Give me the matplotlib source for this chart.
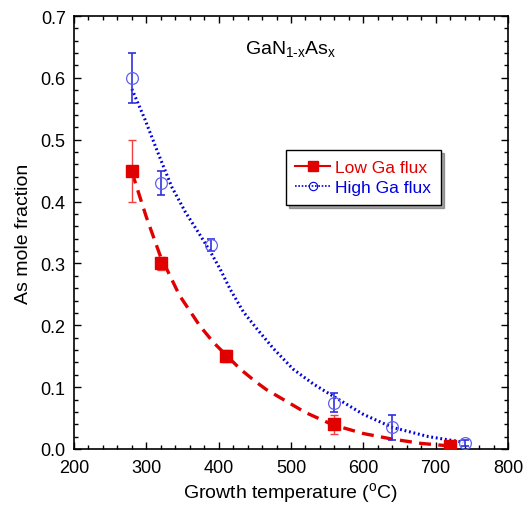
import matplotlib
matplotlib.use("Agg")
import matplotlib.pyplot as plt
from matplotlib.ticker import MultipleLocator, FormatStrFormatter

plt.rcParams['font.family'] = ['Liberation Sans', 'DejaVu Sans']
plt.rcParams['mathtext.fontset'] = 'custom'
plt.rcParams['mathtext.rm'] = 'Liberation Sans'

# Data points
low_T = [280, 320, 410, 560, 720]
low_x = [0.45, 0.30, 0.15, 0.04, 0.005]
low_err = [0.05, 0.01, 0.01, 0.015, 0.003]

high_T = [280, 320, 390, 560, 640, 740]
high_x = [0.60, 0.43, 0.33, 0.075, 0.035, 0.010]
high_err = [0.04, 0.02, 0.01, 0.015, 0.02, 0.005]

# Fit curves
low_fit_T = [280, 300, 319, 346, 374, 393, 411, 430, 452, 466, 485, 520, 558, 600, 639, 680, 715, 722]
low_fit_x = [0.448, 0.375, 0.313, 0.248, 0.199, 0.172, 0.151, 0.129, 0.108, 0.096, 0.083, 0.059, 0.039, 0.025, 0.0162, 0.009, 0.0054, 0.005]

high_fit_T = [280, 298, 317, 335, 354, 372, 388, 402, 416, 434, 453, 476, 503, 531, 556, 600, 640, 690, 738]
high_fit_x = [0.582, 0.533, 0.476, 0.424, 0.383, 0.350, 0.320, 0.291, 0.258, 0.222, 0.194, 0.162, 0.129, 0.105, 0.087, 0.056, 0.035, 0.020, 0.011]

fig = plt.figure(figsize=(5.23, 5.06), dpi=100)
ax = fig.add_axes([0.1415, 0.1107, 0.8298, 0.8557])

red = '#e00000'
blue = '#0000e0'

ax.plot(low_fit_T, low_fit_x, color=red, lw=2.4, ls=(0, (3.6, 2.2)), zorder=2)
ax.plot(high_fit_T, high_fit_x, color=blue, lw=2.2, ls=(0, (0.6, 0.9)), zorder=2)

ax.errorbar(low_T, low_x, yerr=low_err, fmt='none', ecolor='#f04040', elinewidth=1.0, capsize=3, capthick=1.0, zorder=3)
ax.errorbar(high_T, high_x, yerr=high_err, fmt='none', ecolor='#3030e0', elinewidth=1.2, capsize=3, capthick=1.2, zorder=3)
ax.plot(low_T, low_x, ls='none', marker='s', ms=8.5, color=red, mec=red, zorder=4)
ax.plot(high_T, high_x, ls='none', marker='o', ms=8.5, mfc='none', mec='#6060f0', mew=0.9, zorder=4)

# legend proxies
h1, = ax.plot([], [], color=red, lw=1.5, marker='s', ms=7, ls='-')
h2, = ax.plot([], [], color=blue, lw=1.2, marker='o', ms=6, mfc='none', mew=0.8, ls=(0, (1, 1)))
leg = ax.legend([h1, h2], ['Low Ga flux', 'High Ga flux'], loc='upper left',
                bbox_to_anchor=(0.488, 0.69), fontsize=12.5, frameon=True, fancybox=False,
                shadow=True, handlelength=2.0, handletextpad=0.3, borderpad=0.55,
                labelspacing=0.3, borderaxespad=0)
leg.get_frame().set_edgecolor('black')
leg.get_frame().set_linewidth(1.0)
leg.get_texts()[0].set_color(red)
leg.get_texts()[1].set_color(blue)

ax.text(0.5, 0.925, r'GaN$_\mathregular{1\text{-}x}$As$_\mathregular{x}$', transform=ax.transAxes,
        fontsize=14, ha='center', va='center')

ax.set_xlim(200, 800)
ax.set_ylim(0, 0.7)
ax.xaxis.set_major_locator(MultipleLocator(100))
ax.xaxis.set_minor_locator(MultipleLocator(20))
ax.yaxis.set_major_locator(MultipleLocator(0.1))
ax.yaxis.set_minor_locator(MultipleLocator(0.02))
ax.yaxis.set_major_formatter(FormatStrFormatter('%.1f'))
ax.tick_params(which='both', direction='in', top=True, right=True, labelsize=13, width=1.0)
ax.tick_params(which='major', length=5)
ax.tick_params(which='minor', length=3)
ax.tick_params(axis='x', pad=7)
ax.tick_params(axis='y', pad=6)
for s in ax.spines.values():
    s.set_linewidth(1.2)

ax.set_xlabel(r'Growth temperature ($^\mathregular{o}$C)', fontsize=14, labelpad=3)
ax.set_ylabel('As mole fraction', fontsize=14, labelpad=6)

fig.savefig('out.png', dpi=100)
